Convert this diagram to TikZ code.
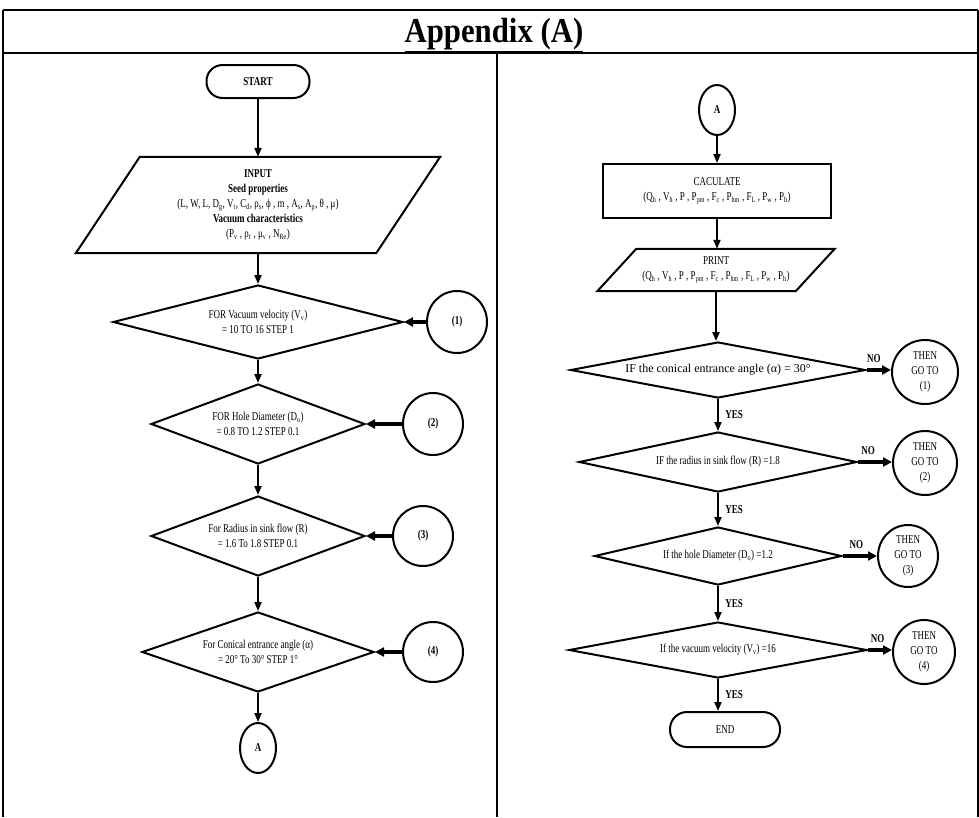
\documentclass[tikz,border=0pt]{standalone}
\usepackage{fontspec}
\setmainfont{Liberation Serif}
\newfontfamily\nf[FakeStretch=0.75]{Liberation Serif}
\newfontfamily\tf[FakeStretch=0.88]{Liberation Serif}
\usetikzlibrary{shapes.geometric,arrows.meta}
\newcommand\sbs[1]{\textsubscript{#1}}
\tikzset{
  ft/.style={font=\nf\fontsize{12}{15}\selectfont, align=center},
  ln/.style={line width=2pt},
  dia/.style={ft, diamond, draw, ln, inner sep=0pt},
  cir/.style={ft, ellipse, draw, ln, inner sep=0pt},
  term/.style={ft, rectangle, draw, ln, rounded corners=16pt, inner sep=0pt},
  arr/.style={ln, -{Triangle[length=9pt,width=7pt]}},
  tarr/.style={line width=3.6pt, -{Triangle[length=9pt,width=9pt]}},
  lab/.style={font=\nf\fontsize{12}{14}\selectfont\bfseries},
}
\begin{document}
\begin{tikzpicture}[x=1pt,y=-1pt]
\useasboundingbox (0,0) rectangle (979,817);
% frame
\draw[line width=2.5pt] (3,10) -- (978,10);
\draw[line width=2pt] (3,53) -- (978,53);
\draw[line width=2pt] (3,10) -- (3,817);
\draw[line width=2pt] (977.5,10) -- (977.5,817);
\draw[line width=1.5pt] (497,53) -- (497,817);
\node[font=\tf\fontsize{35}{38}\selectfont\bfseries] (title) at (494,35) {\underline{Appendix (A)}};

% ---------- left column ----------
\node[term, minimum width=103pt, minimum height=33pt, font=\nf\fontsize{12}{15}\selectfont\bfseries] (start) at (258,81.5) {START};
\node[ft, minimum width=364pt, minimum height=96pt, inner sep=0pt] (input) at (258,205)
  {\textbf{INPUT}\\ \textbf{Seed properties}\\
   (L, W, L, D\sbs{g}, V\sbs{t}, C\sbs{d}, ρ\sbs{s}, ϕ , m , A\sbs{s}, A\sbs{p}, θ , μ)\\
   \textbf{Vacuum characteristics}\\
   (P\sbs{v} , ρ\sbs{r} , μ\sbs{v} , N\sbs{Re})};
\draw[ln] ([xshift=64pt]input.north west) -- (input.north east) -- ([xshift=-64pt]input.south east) -- (input.south west) -- cycle;

\node[dia, aspect=3.9, minimum width=290pt, minimum height=74pt] (d1) at (258,322) {FOR Vacuum velocity (V\sbs{v})\\= 10 TO 16 STEP 1};
\node[cir, minimum width=60pt, minimum height=62pt, font=\nf\fontsize{12}{15}\selectfont\bfseries] (c1) at (457,322) {(1)};
\node[dia, aspect=2.7, minimum width=214pt, minimum height=80pt] (d2) at (258,424) {FOR Hole Diameter (D\sbs{o})\\= 0.8 TO 1.2 STEP 0.1};
\node[cir, minimum width=60pt, minimum height=62pt, font=\nf\fontsize{12}{15}\selectfont\bfseries] (c2) at (433,424) {(2)};
\node[dia, aspect=2.7, minimum width=214pt, minimum height=80pt] (d3) at (258,536) {For Radius in sink flow (R)\\= 1.6 To 1.8 STEP 0.1};
\node[cir, minimum width=60pt, minimum height=60pt, font=\nf\fontsize{12}{15}\selectfont\bfseries] (c3) at (423,536) {(3)};
\node[dia, aspect=2.9, minimum width=232pt, minimum height=80pt] (d4) at (258,652) {For Conical entrance angle (α)\\= 20° To 30° STEP 1°};
\node[cir, minimum width=60pt, minimum height=60pt, font=\nf\fontsize{12}{15}\selectfont\bfseries] (c4) at (433,652) {(4)};
\node[cir, minimum width=36pt, minimum height=50pt, font=\nf\fontsize{12}{15}\selectfont\bfseries] (a1) at (258,748) {A};

\draw[arr] (start.south) -- (input.north);
\draw[arr] (input.south) -- (d1.north);
\draw[arr] (d1.south) -- (d2.north);
\draw[arr] (d2.south) -- (d3.north);
\draw[arr] (d3.south) -- (d4.north);
\draw[arr] (d4.south) -- (a1.north);
\draw[tarr] (c1.west) -- (d1.east);
\draw[tarr] (c2.west) -- (d2.east);
\draw[tarr] (c3.west) -- (d3.east);
\draw[tarr] (c4.west) -- (d4.east);

% ---------- right column ----------
\node[cir, minimum width=36pt, minimum height=50pt, font=\nf\fontsize{12}{15}\selectfont\bfseries] (a2) at (717,110) {A};
\node[ft, rectangle, draw, ln, minimum width=228pt, minimum height=54pt, inner sep=0pt] (calc) at (717,191)
  {CACULATE\\(Q\sbs{h} , V\sbs{h} , P , P\sbs{pm} , F\sbs{c} , P\sbs{hm} , F\sbs{L} , P\sbs{w} , P\sbs{h})};
\node[ft, minimum width=237pt, minimum height=42pt, inner sep=0pt] (print) at (716,270)
  {PRINT\\(Q\sbs{h} , V\sbs{h} , P , P\sbs{pm} , F\sbs{c} , P\sbs{hm} , F\sbs{L} , P\sbs{w} , P\sbs{h})};
\draw[ln] ([xshift=39pt]print.north west) -- (print.north east) -- ([xshift=-39pt]print.south east) -- (print.south west) -- cycle;

\node[dia, aspect=5.3, minimum width=295pt, minimum height=56pt, font=\fontsize{12}{15}\selectfont] (d5) at (718,370) {IF the conical entrance angle (α) = 30°};
\node[cir, minimum width=66pt, minimum height=64pt] (e1) at (925,372) {THEN\\GO TO\\(1)};
\node[dia, aspect=4.6, minimum width=278pt, minimum height=60pt] (d6) at (718,462) {IF the radius in sink flow (R) =1.8};
\node[cir, minimum width=64pt, minimum height=64pt] (e2) at (925,463) {THEN\\GO TO\\(2)};
\node[dia, aspect=4.3, minimum width=247pt, minimum height=58pt] (d7) at (718,556) {If the hole Diameter (D\sbs{o}) =1.2};
\node[cir, minimum width=60pt, minimum height=62pt] (e3) at (908,556) {THEN\\GO TO\\(3)};
\node[dia, aspect=5.3, minimum width=298pt, minimum height=56pt] (d8) at (718,650) {If the vacuum velocity (V\sbs{v}) =16};
\node[cir, minimum width=62pt, minimum height=64pt] (e4) at (924,652) {THEN\\GO TO\\(4)};
\node[term, minimum width=110pt, minimum height=35pt, rounded corners=17pt] (end) at (725,729.5) {END};

\draw[arr] (a2.south) -- (a2.south |- calc.north);
\draw[arr] (calc.south) -- (calc.south |- print.north);
\draw[arr] (print.south) -- (print.south |- d5.north);
\draw[arr] (d5.south) -- (d6.north) node[lab, midway, right=3pt] {YES};
\draw[arr] (d6.south) -- (d7.north) node[lab, midway, right=3pt] {YES};
\draw[arr] (d7.south) -- (d8.north) node[lab, midway, right=3pt] {YES};
\draw[arr] (d8.south) -- (d8.south |- end.north) node[lab, midway, right=3pt] {YES};
\draw[tarr] (d5.east) -- (d5.east -| e1.west) node[lab, pos=0.3, above=2pt] {NO};
\draw[tarr] (d6.east) -- (d6.east -| e2.west) node[lab, pos=0.3, above=2pt] {NO};
\draw[tarr] (d7.east) -- (d7.east -| e3.west) node[lab, pos=0.4, above=2pt] {NO};
\draw[tarr] (d8.east) -- (d8.east -| e4.west) node[lab, pos=0.4, above=2pt] {NO};
\end{tikzpicture}
\end{document}
